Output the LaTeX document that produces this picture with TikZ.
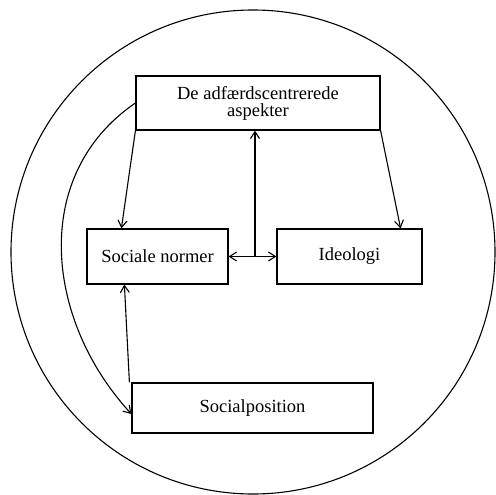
\documentclass[tikz,border=0pt]{standalone}
\usepackage{fontspec}
\setmainfont{Liberation Serif}
\usetikzlibrary{arrows.meta}
\begin{document}
\begin{tikzpicture}[x=1pt,y=-1pt,
  box/.style={draw,line width=1.2pt,rectangle,inner sep=0pt,align=center,
    font=\fontsize{18.5}{17}\selectfont},
  conn/.style={line width=1.1pt,-{Straight Barb[length=7pt,width=9pt,line width=1.1pt]}},
  both/.style={line width=1.1pt,{Straight Barb[length=7pt,width=9pt,line width=1.1pt]}-{Straight Barb[length=7pt,width=9pt,line width=1.1pt]}}]
\useasboundingbox (0,0) rectangle (495,495);
\draw[line width=1.1pt] (253,252) circle[radius=242pt];
\node[box,minimum width=244pt,minimum height=54pt] (top) at (258,103) {De adfærdscentrerede\\aspekter};
\node[box,minimum width=141pt,minimum height=55pt] (sn) at (157.5,256.5) {Sociale normer};
\node[box,minimum width=145pt,minimum height=55pt] (ideo) at (349.5,256.5) {Ideologi};
\node[box,minimum width=241pt,minimum height=50pt] (sp) at (252.5,408) {Socialposition};
\coordinate (j) at (255,256.5);
\draw[conn] (top.south west) -- ([xshift=35pt]sn.north west);
\draw[conn] (top.south east) -- ([xshift=-22pt]ideo.north east);
\draw[conn] (j) -- (j |- top.south);
\draw[both] (sn.east) -- (ideo.west);
\draw[conn] ([xshift=-2pt]sp.north west) -- ([xshift=38pt]sn.south west);
\draw[conn] (top.west) .. controls (30,175) and (45,320) .. ([yshift=-6pt]sp.west);
\end{tikzpicture}
\end{document}
